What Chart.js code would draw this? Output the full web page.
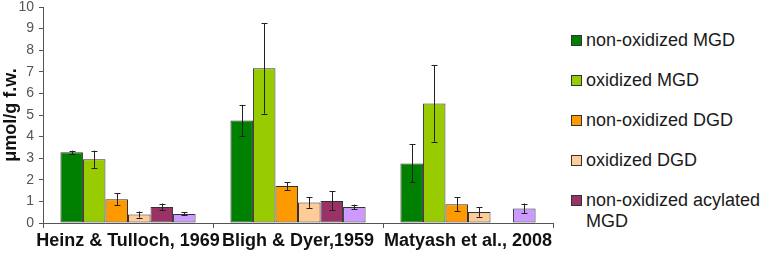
<!DOCTYPE html>
<html>
<head>
  <meta charset="UTF-8">
  <script src="https://cdn.jsdelivr.net/npm/chart.js"></script>
  <style>
    body { margin: 0; background: #fff; }
    .wrap { position: relative; width: 768px; height: 257px; }
    .cv { position: absolute; left: 0; top: 0; width: 565px; height: 257px; }
    #legend { position: absolute; left: 570px; top: 30px; width: 192px;
      font-family: Arial, "Liberation Sans", sans-serif; font-size: 18px; color: #1a1a1a; }
    .item { display: flex; align-items: flex-start; line-height: 21px; margin-bottom: 19px; }
    .box { width: 9px; height: 9px; border: 1px solid #333; margin: 5px 4px 0 1px; flex: none; }
  </style>
</head>
<body>
<div class="wrap">
  <div class="cv"><canvas id="myChart"></canvas></div>
  <div id="legend"></div>
</div>
<script>
// categories
var studies = ["Heinz & Tulloch, 1969", "Bligh & Dyer,1959", "Matyash et al., 2008"];
var series_names = ["non-oxidized MGD", "oxidized MGD", "non-oxidized DGD", "oxidized DGD", "non-oxidized acylated MGD", "oxidized acylated MGD"];
var series_colors = ["#008000", "#99CC00", "#FF9900", "#FFCC99", "#993366", "#CC99FF"];

// values (umol/g f.w.), per series, one per study
var non_ox_mgd = [3.27, 4.74, 2.76];
var ox_mgd = [2.95, 7.16, 5.53];
var non_ox_dgd = [1.10, 1.71, 0.87];
var ox_dgd = [0.39, 0.95, 0.51];
var non_ox_acyl_mgd = [0.74, 1.02, 0];
var ox_acyl_mgd = [0.42, 0.74, 0.67];

// error bars (+/-)
var err_non_ox_mgd = [0.08, 0.73, 0.88];
var err_ox_mgd = [0.40, 2.10, 1.77];
var err_non_ox_dgd = [0.27, 0.18, 0.33];
var err_ox_dgd = [0.14, 0.25, 0.22];
var err_non_ox_acyl_mgd = [0.16, 0.44, 0];
var err_ox_acyl_mgd = [0.07, 0.11, 0.23];

var y_ticks = [0, 1, 2, 3, 4, 5, 6, 7, 8, 9, 10];

var all_values = [non_ox_mgd, ox_mgd, non_ox_dgd, ox_dgd, non_ox_acyl_mgd, ox_acyl_mgd];
var all_errors = [err_non_ox_mgd, err_ox_mgd, err_non_ox_dgd, err_ox_dgd, err_non_ox_acyl_mgd, err_ox_acyl_mgd];
var legend_count = 5; // last series is not shown in the legend

var datasets = [];
for (var i = 0; i < all_values.length; i++) {
  datasets.push({
    label: series_names[i],
    data: all_values[i],
    errors: all_errors[i],
    backgroundColor: series_colors[i],
    borderColor: "#333",
    borderWidth: 1,
    borderSkipped: false,
    categoryPercentage: 0.795,
    barPercentage: 1.0
  });
}

// error bars drawn from the scale
var errorBars = {
  id: "errorBars",
  afterDatasetsDraw: function(chart) {
    var ctx = chart.ctx;
    var yScale = chart.scales.y;
    ctx.save();
    ctx.strokeStyle = "#222";
    ctx.lineWidth = 1;
    chart.data.datasets.forEach(function(ds, di) {
      var meta = chart.getDatasetMeta(di);
      meta.data.forEach(function(bar, j) {
        var e = ds.errors[j];
        if (!e) return;
        var v = ds.data[j];
        var x = Math.round(bar.x) + 0.5;
        var top = yScale.getPixelForValue(v + e);
        var bot = yScale.getPixelForValue(v - e);
        ctx.beginPath();
        ctx.moveTo(x, top); ctx.lineTo(x, bot);
        ctx.moveTo(x - 3, Math.round(top) + 0.5); ctx.lineTo(x + 3, Math.round(top) + 0.5);
        ctx.moveTo(x - 3, Math.round(bot) + 0.5); ctx.lineTo(x + 3, Math.round(bot) + 0.5);
        ctx.stroke();
      });
    });
    ctx.restore();
  }
};

var config = {
  type: "bar",
  data: { labels: studies, datasets: datasets },
  options: {
    responsive: true,
    maintainAspectRatio: false,
    animation: false,
    layout: { padding: { top: 7, right: 12, left: 0, bottom: 0 } },
    plugins: { legend: { display: false }, tooltip: { enabled: false } },
    scales: {
      x: {
        offset: true,
        grid: { display: true, drawOnChartArea: false, offset: true, tickLength: 5, color: "#555" },
        border: { color: "#555" },
        ticks: { maxRotation: 0, minRotation: 0, autoSkip: false, color: "#111",
          font: { family: "Arial", size: 18, weight: "bold" }, padding: 2 },
        afterFit: function(scale) { scale.height = 34; }
      },
      y: {
        min: 0, max: 10,
        afterBuildTicks: function(scale) { scale.ticks = y_ticks.map(function(v) { return { value: v }; }); },
        grid: { display: true, drawOnChartArea: false, tickLength: 4, color: "#555" },
        border: { color: "#555" },
        ticks: { color: "#555", font: { family: "Arial", size: 14 }, padding: 5 },
        title: { display: true, text: "μmol/g f.w.", color: "#111",
          font: { family: "Arial", size: 18, weight: "bold" }, padding: 0 },
        afterFit: function(scale) { scale.width = 43; scale.paddingTop = 0; scale.paddingBottom = 0; }
      }
    }
  },
  plugins: [errorBars]
};

window.myChart = new Chart(document.getElementById("myChart"), config);

// legend
var legend = document.getElementById("legend");
for (var k = 0; k < legend_count; k++) {
  var row = document.createElement("div");
  row.className = "item";
  var box = document.createElement("span");
  box.className = "box";
  box.style.background = series_colors[k];
  var txt = document.createElement("span");
  txt.textContent = series_names[k];
  row.appendChild(box);
  row.appendChild(txt);
  legend.appendChild(row);
}
</script>
</body>
</html>
